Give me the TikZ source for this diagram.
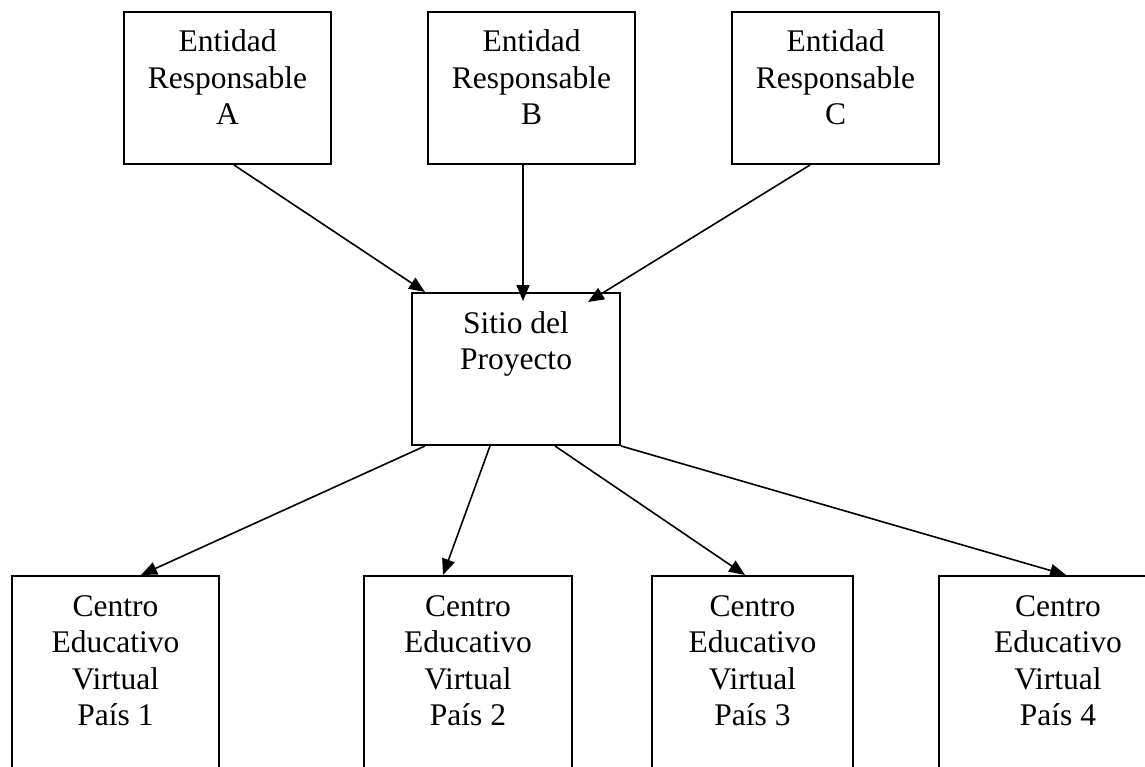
\documentclass[tikz,border=0pt]{standalone}
\usepackage{fontspec}
\setmainfont{Liberation Serif}
\usetikzlibrary{arrows.meta}
\newcommand\boxtext[3]{\begin{minipage}[t][#2pt][t]{#1pt}\centering\fontsize{31.5}{36.5}\selectfont\rule{0pt}{40pt}#3\end{minipage}}
\begin{document}
\begin{tikzpicture}[x=1pt,y=-1pt,
  box/.style={draw, line width=2pt, inner sep=0pt, anchor=north west},
  arr/.style={line width=1.6pt, -{Triangle[length=16pt,width=13pt]}}]
\clip (0,0) rectangle (1145,767);
\fill[white] (0,0) rectangle (1145,767);
% top boxes
\node[box] (A) at (123,11) {\boxtext{207}{152}{Entidad\\Responsable\\A}};
\node[box] (B) at (427,11) {\boxtext{207}{152}{Entidad\\Responsable\\B}};
\node[box] (C) at (731,11) {\boxtext{207}{152}{Entidad\\Responsable\\C}};
% middle
\node[box] (M) at (411,292) {\boxtext{208}{152}{Sitio del\\Proyecto}};
% bottom boxes
\node[box] (P1) at (11,575) {\boxtext{207}{260}{Centro\\Educativo\\Virtual\\País 1}};
\node[box] (P2) at (363,575) {\boxtext{208}{260}{Centro\\Educativo\\Virtual\\País 2}};
\node[box] (P3) at (651,575) {\boxtext{201}{260}{Centro\\Educativo\\Virtual\\País 3}};
\node[box] (P4) at (938,575) {\boxtext{238}{260}{Centro\\Educativo\\Virtual\\País 4}};
% arrows top
\draw[arr] ([xshift=111pt]A.south west) -- ([xshift=14pt]M.north west);
\draw[arr] ([xshift=96pt]B.south west) -- ([xshift=112pt,yshift=-9pt]M.north west);
\draw[arr] ([xshift=79pt]C.south west) -- ([xshift=177pt,yshift=-10pt]M.north west);
% arrows bottom
\draw[arr] ([xshift=14pt]M.south west) -- ([xshift=130pt]P1.north west);
\draw[arr] ([xshift=79pt]M.south west) -- ([xshift=80pt]P2.north west);
\draw[arr] ([xshift=144pt]M.south west) -- ([xshift=94pt]P3.north west);
\draw[arr] (M.south east) -- ([xshift=128pt]P4.north west);
\end{tikzpicture}
\end{document}
